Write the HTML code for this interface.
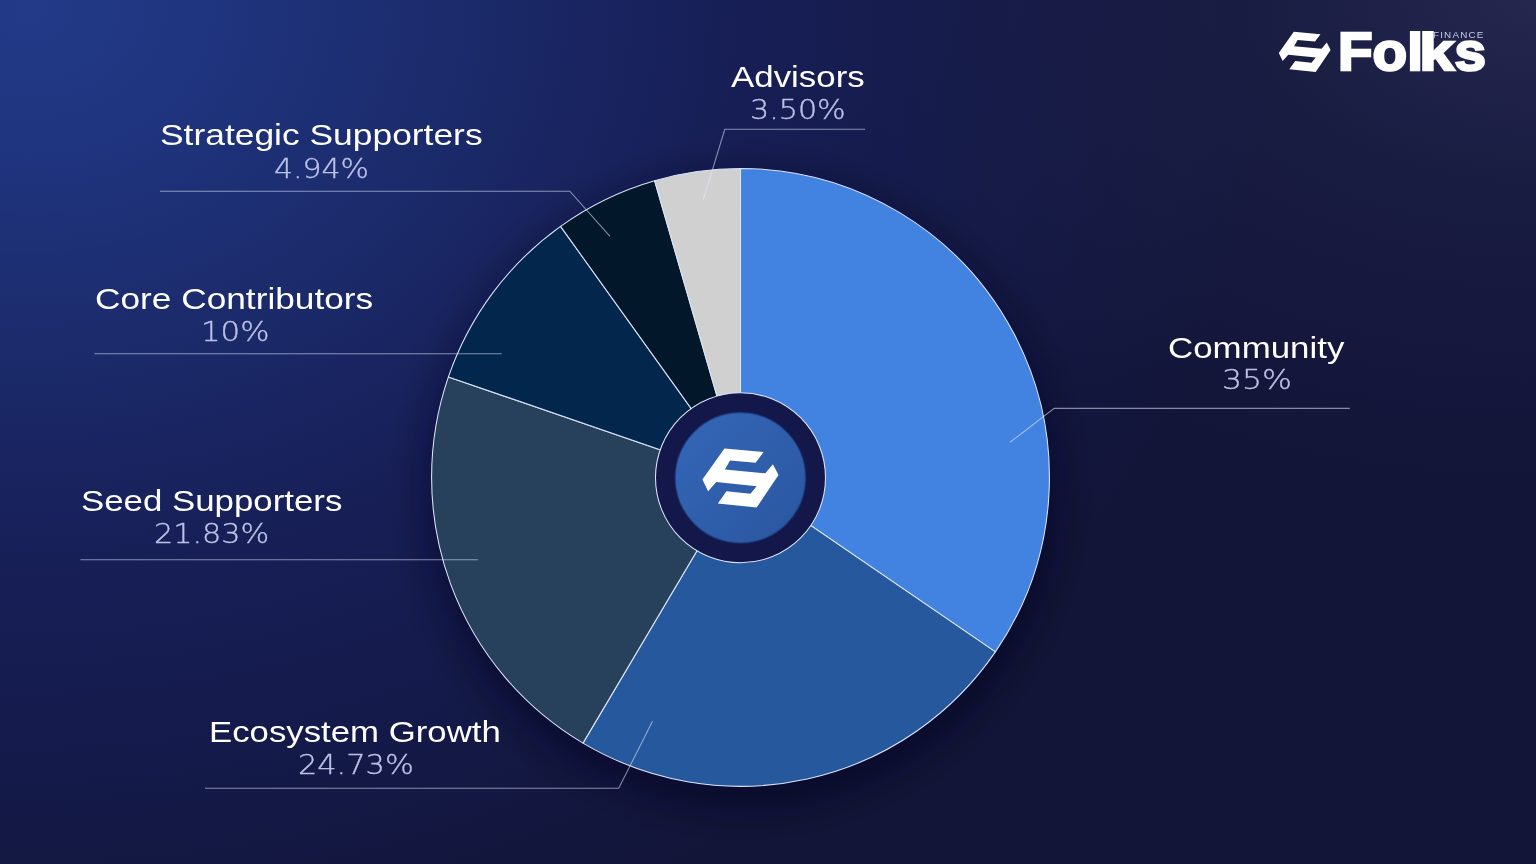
<!DOCTYPE html>
<html lang="en">
<head>
<meta charset="utf-8">
<title>Folks Finance – Token Allocation</title>
<style>
  html, body { margin: 0; padding: 0; }
  body {
    width: 1536px; height: 864px; overflow: hidden; position: relative;
    font-family: "Liberation Sans", sans-serif;
    background-color: #121538;
    background-image:
      radial-gradient(ellipse 760px 480px at 100% 0%, rgba(40,42,82,0.85) 0%, rgba(32,35,74,0.5) 40%, rgba(18,21,56,0) 100%),
      radial-gradient(ellipse 1250px 1000px at 30px 10px, #223a88 0%, #1f347e 15%, #1b2a6a 35%, #171f57 55%, #141a4a 75%, rgba(18,21,56,0) 100%);
  }
  #chart { position: absolute; left: 0; top: 0; width: 1536px; height: 864px; }
  .label { position: absolute; white-space: nowrap; line-height: 1; transform-origin: 0 0; will-change: transform; }
  .title { color: #ffffff; font-size: 29px; }
  .pct   { color: #bcc2e6; font-size: 26.2px; font-family: "DejaVu Sans", sans-serif; font-weight: 200; -webkit-text-stroke: 0.35px #bcc2e6; }
  .brand { position: absolute; white-space: nowrap; line-height: 1; transform-origin: 0 0; will-change: transform;
           color: #fff; font-weight: bold; }
  .fin { position: absolute; white-space: nowrap; line-height: 1; transform-origin: 0 0; will-change: transform;
         color: #c9cbe8; font-size: 8.4px; letter-spacing: 1px; }
</style>
</head>
<body>

<svg id="chart" width="1536" height="864" viewBox="0 0 1536 864">
  <defs>
    <filter id="blur" x="-20%" y="-20%" width="140%" height="140%">
      <feGaussianBlur stdDeviation="21"/>
    </filter>
    <linearGradient id="coin" x1="0" y1="0" x2="1" y2="1">
      <stop offset="0" stop-color="#3467b8"/>
      <stop offset="1" stop-color="#2a569f"/>
    </linearGradient>
  </defs>

  <!-- soft drop shadow under the pie -->
  <circle cx="742" cy="492" r="315" fill="#05051a" fill-opacity="0.56" filter="url(#blur)"/>

  <!-- pie slices -->
  <g stroke="#dde5f8" stroke-width="1.05" stroke-linejoin="round">
    <path d="M740.5 477.4 L740.50 168.50 A308.9 308.9 0 0 1 995.38 651.92 Z" fill="#4282e0"/>
    <path d="M740.5 477.4 L995.38 651.92 A308.9 308.9 0 0 1 582.98 743.12 Z" fill="#25589c"/>
    <path d="M740.5 477.4 L582.98 743.12 A308.9 308.9 0 0 1 448.41 376.88 Z" fill="#27405c"/>
    <path d="M740.5 477.4 L448.41 376.88 A308.9 308.9 0 0 1 560.55 226.33 Z" fill="#03264d"/>
    <path d="M740.5 477.4 L560.55 226.33 A308.9 308.9 0 0 1 654.58 180.69 Z" fill="#03172b"/>
    <path d="M740.5 477.4 L654.58 180.69 A308.9 308.9 0 0 1 740.50 168.50 Z" fill="#d0d0d0"/>
  </g>

  <!-- centre coin -->
  <circle cx="740.5" cy="477.8" r="85" fill="#14174a" stroke="#dde5f8" stroke-width="1.05"/>
  <circle cx="740.4" cy="477.8" r="65.2" fill="url(#coin)" stroke="#1d3a80" stroke-opacity="0.55" stroke-width="1.6"/>
  <g transform="translate(740.46 478.0) scale(1.47) translate(-1304.7 -51.95)">
    <polygon fill="#ffffff" points="1293.8,31.8 1320.5,34.2 1315,41.5 1297.6,40.1 1294.1,46.25 1321.6,48.8 1326.8,42.6 1330.6,49.9 1315.7,72.1 1289.3,69.3 1295.2,61 1311.5,62.7 1315.7,57.5 1288.2,54.7 1282.7,61 1278.8,53"/>
  </g>

  <!-- leader lines -->
  <g fill="none" stroke="#e3ecff" stroke-opacity="0.55" stroke-width="1.1">
    <polyline points="865,129.3 724.8,129.3 703.3,199.6"/>
    <polyline points="160,191.2 569.8,191.2 610,236.4"/>
    <polyline points="94.4,353.8 501.7,353.8"/>
    <polyline points="80.4,559.8 477.8,559.8"/>
    <polyline points="205,788.3 618.7,788.3 652.5,721.3"/>
    <polyline points="1349.8,408.4 1054.2,408.4 1010,442.3"/>
  </g>

  <!-- brand mark -->
  <polygon fill="#ffffff" points="1293.8,31.8 1320.5,34.2 1315,41.5 1297.6,40.1 1294.1,46.25 1321.6,48.8 1326.8,42.6 1330.6,49.9 1315.7,72.1 1289.3,69.3 1295.2,61 1311.5,62.7 1315.7,57.5 1288.2,54.7 1282.7,61 1278.8,53"/>
</svg>

<div class="label title" id="t1" style="left:731.42px; top:63.0px; transform:scaleX(1.2029);">Advisors</div>
<div class="label pct"   id="p1" style="left:749.96px; top:97.09px; transform:scaleX(1.1503);">3.50%</div>

<div class="label title" id="t2" style="left:159.81px; top:121.2px; transform:scaleX(1.2203);">Strategic Supporters</div>
<div class="label pct"   id="p2" style="left:274.2px; top:155.69px; transform:scaleX(1.1425);">4.94%</div>

<div class="label title" id="t3" style="left:94.73px; top:285.4px; transform:scaleX(1.2155);">Core Contributors</div>
<div class="label pct"   id="p3" style="left:200.8px; top:319.49px; transform:scaleX(1.1754);">10%</div>

<div class="label title" id="t4" style="left:80.73px; top:487.0px; transform:scaleX(1.201);">Seed Supporters</div>
<div class="label pct"   id="p4" style="left:154.13px; top:521.09px; transform:scaleX(1.1545);">21.83%</div>

<div class="label title" id="t5" style="left:209.11px; top:717.6px; transform:scaleX(1.199);">Ecosystem Growth</div>
<div class="label pct"   id="p5" style="left:297.72px; top:751.69px; transform:scaleX(1.1591);">24.73%</div>

<div class="label title" id="t6" style="left:1168.35px; top:334.2px; transform:scaleX(1.2026);">Community</div>
<div class="label pct"   id="p6" style="left:1222.47px; top:367.09px; transform:scaleX(1.2025);">35%</div>

<div class="brand" id="brand" style="left:1337.54px; top:25.49px; font-size:53.5px; -webkit-text-stroke:2.4px #fff; transform:scaleX(1.0585); clip-path:inset(6.6px -10px -10px -10px);">Fol<span style="display:inline-block; transform:scaleX(1.11); transform-origin:100% 50%;">k</span>s</div>
<div class="fin" id="fin" style="left:1433.25px; top:31.43px; transform:scaleX(1.178);">FINANCE</div>

</body>
</html>
